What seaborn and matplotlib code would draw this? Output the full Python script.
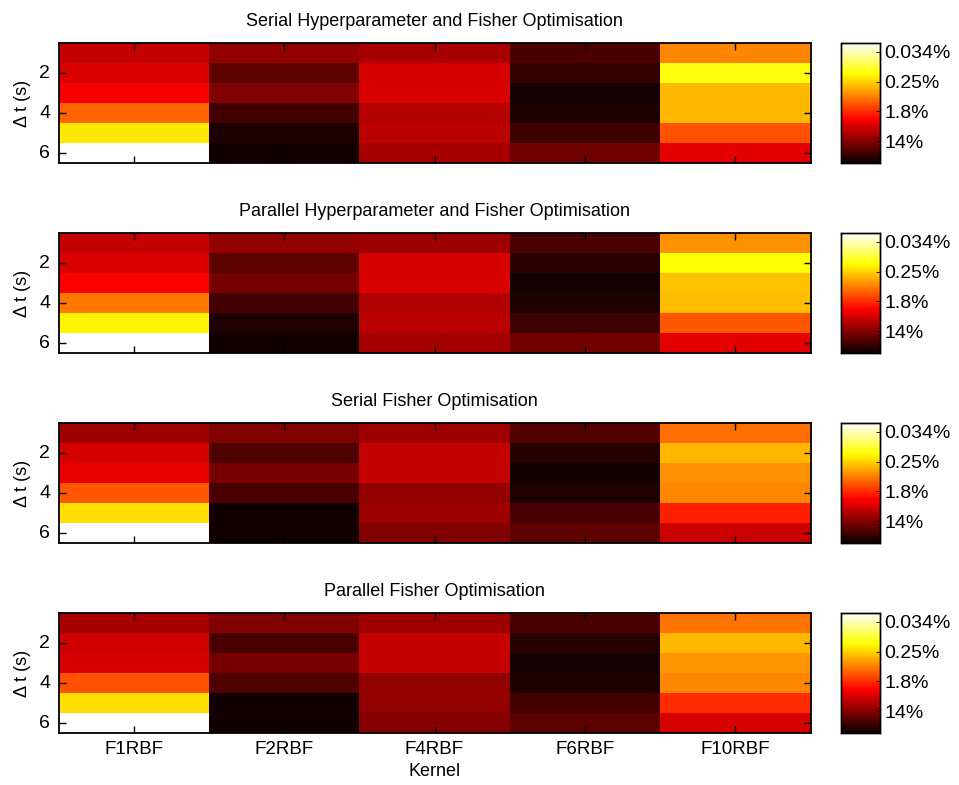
import numpy as np
import pandas as pd
import matplotlib
matplotlib.use("Agg")
import matplotlib.pyplot as plt
import seaborn as sns

sns.set_style("ticks")
plt.rcParams['font.family'] = ['Liberation Sans', 'DejaVu Sans']
plt.rcParams['text.color'] = 'black'
plt.rcParams['axes.labelcolor'] = 'black'
plt.rcParams['xtick.color'] = 'black'
plt.rcParams['ytick.color'] = 'black'
plt.rcParams['axes.axisbelow'] = False

kernels = ["F1RBF", "F2RBF", "F4RBF", "F6RBF", "F10RBF"]
dt_values = [1, 2, 3, 4, 5, 6]
titles = ["Serial Hyperparameter and Fisher Optimisation",
          "Parallel Hyperparameter and Fisher Optimisation",
          "Serial Fisher Optimisation",
          "Parallel Fisher Optimisation"]

# test error (%) ; rows = delta t 1..6, columns = kernels
err_serial_hyp_fisher = [
    [6.19, 11.2, 8.84, 27.1, 0.611],
    [4.75, 21.5, 5.19, 34.6, 0.128],
    [3.41, 14.2, 4.75, 51.0, 0.336],
    [0.924, 29.0, 7.41, 46.6, 0.336],
    [0.187, 46.6, 6.94, 30.6, 1.18],
    [0.0184, 53.5, 8.84, 17.0, 4.31],
]
err_parallel_hyp_fisher = [
    [6.19, 11.2, 9.98, 27.1, 0.542],
    [4.75, 21.5, 5.19, 39.0, 0.140],
    [3.22, 15.9, 4.75, 51.0, 0.300],
    [0.731, 29.0, 7.83, 46.6, 0.318],
    [0.165, 46.6, 6.94, 30.6, 1.10],
    [0.0184, 53.5, 9.35, 17.0, 4.31],
]
err_serial_fisher = [
    [9.98, 14.2, 9.98, 24.2, 0.826],
    [5.19, 25.7, 6.19, 41.3, 0.336],
    [4.08, 15.9, 6.19, 52.2, 0.542],
    [1.10, 27.1, 11.2, 46.6, 0.611],
    [0.209, 52.2, 9.98, 27.1, 2.12],
    [0.0184, 53.5, 14.2, 21.5, 5.81],
]
err_parallel_fisher = [
    [8.84, 14.2, 9.98, 27.1, 0.773],
    [5.49, 27.1, 6.19, 41.3, 0.336],
    [5.19, 15.9, 6.19, 51.0, 0.512],
    [1.18, 25.7, 11.2, 46.6, 0.611],
    [0.209, 52.2, 11.2, 29.0, 1.89],
    [0.0184, 53.5, 13.3, 21.5, 5.19],
]
all_err = [err_serial_hyp_fisher, err_parallel_hyp_fisher,
           err_serial_fisher, err_parallel_fisher]

cbar_ticks = [2, 4, 6, 8]          # -ln(error fraction)
cbar_labels = ["14%", "1.8%", "0.25%", "0.034%"]
vmin, vmax = 0.53, 8.6

fig = plt.figure(figsize=(9.59, 7.85), dpi=100)
W, H = 959.0, 785.0
ax_left, ax_right = 58.5, 810.5
cb_left, cb_right = 841.0, 880.0
tops = [43, 233, 423, 613]
ax_h = 120.0

for i, (err, title) in enumerate(zip(all_err, titles)):
    top = tops[i]
    ax = fig.add_axes([ax_left / W, 1 - (top + ax_h) / H,
                       (ax_right - ax_left) / W, ax_h / H])
    cax = fig.add_axes([cb_left / W, 1 - (top + ax_h) / H,
                        (cb_right - cb_left) / W, ax_h / H])
    df = pd.DataFrame(err, index=dt_values, columns=kernels)
    score = -np.log(df / 100.0)
    sns.heatmap(score, ax=ax, cmap="hot", vmin=vmin, vmax=vmax,
                cbar_ax=cax, cbar=True)
    ax.set_axisbelow(False)
    for s in ax.spines.values():
        s.set_visible(True)
        s.set_color("black")
        s.set_linewidth(1.3)
        s.set_zorder(5)
    ax.set_title(title, fontsize=13, pad=12, color="black")
    ax.set_yticks([1.5, 3.5, 5.5])
    ax.set_yticklabels(["2", "4", "6"], rotation=0, fontsize=14)
    ax.set_xticks(np.arange(len(kernels)) + 0.5)
    if i == 3:
        ax.set_xticklabels(kernels, rotation=0, fontsize=13.5)
        ax.set_xlabel("Kernel", fontsize=13, labelpad=3)
    else:
        ax.set_xticklabels([])
        ax.set_xlabel("")
    ax.set_ylabel("\u0394 t (s)", fontsize=13, labelpad=6)
    ax.tick_params(axis="both", which="major", direction="in", length=5,
                   width=1.0, top=True, right=True, bottom=True, left=True,
                   pad=6, colors="black")
    for t in ax.xaxis.get_major_ticks() + ax.yaxis.get_major_ticks():
        t.set_zorder(6)

    cax.set_axisbelow(False)
    cax.set_yticks(cbar_ticks)
    cax.set_yticklabels(cbar_labels, fontsize=14)
    cax.tick_params(direction="in", length=3, width=0.6, pad=3,
                    colors="black")
    for s in cax.spines.values():
        s.set_visible(True)
        s.set_color("black")
        s.set_linewidth(1.0)

fig.savefig("out.png", dpi=100, facecolor="white")
